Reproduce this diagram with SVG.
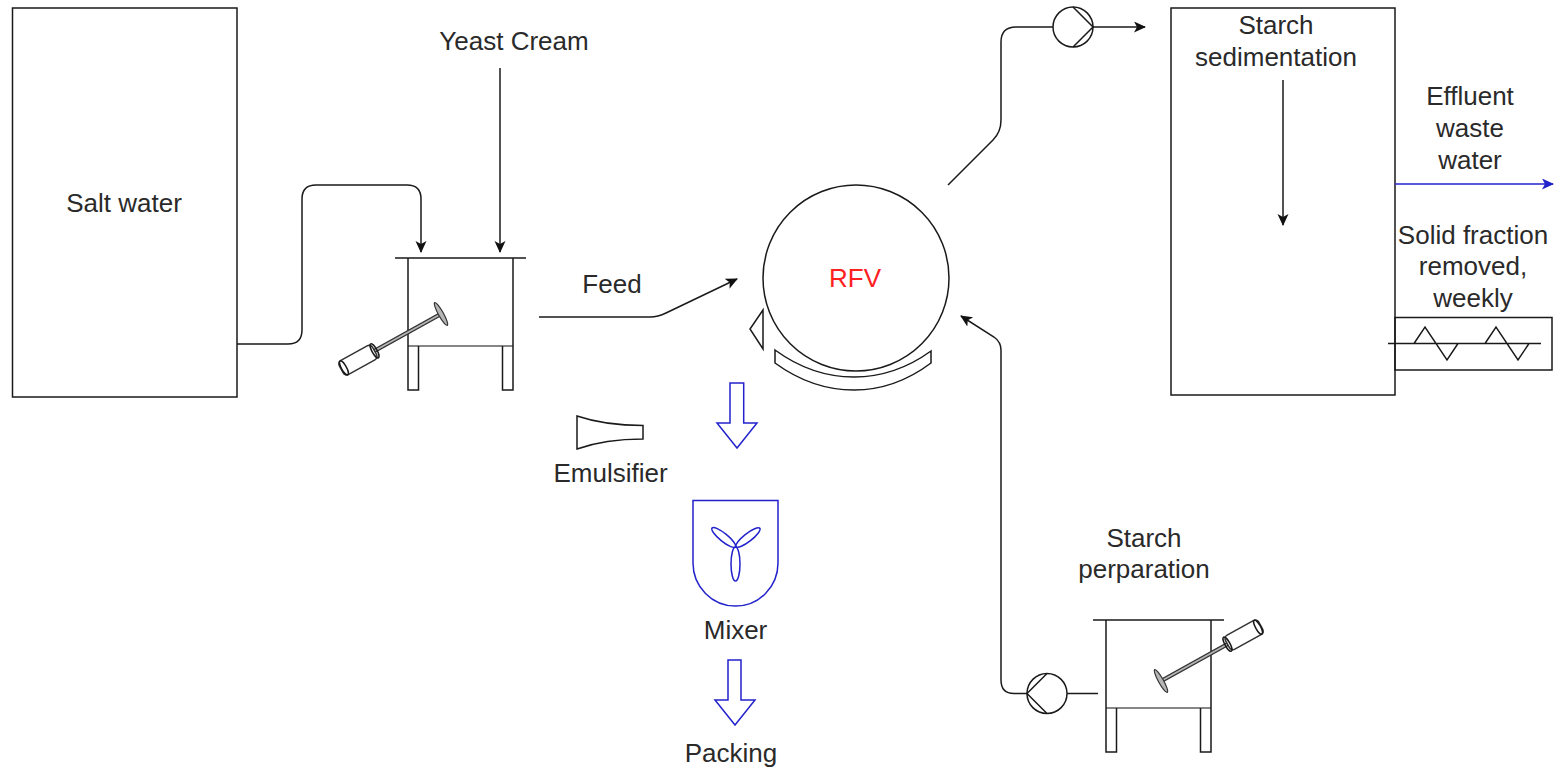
<svg xmlns="http://www.w3.org/2000/svg" width="1557" height="771" viewBox="0 0 1557 771">
<style>
text{font-family:"Liberation Sans",Arial,sans-serif;font-size:26px;fill:#2a2a2a;text-anchor:middle}
.s{fill:none;stroke:#1a1a1a;stroke-width:1.5}
.w{fill:#fff;stroke:#333;stroke-width:1.5}
.b{fill:none;stroke:#2222cc;stroke-width:1.5}
.g{fill:#b5b5b5;stroke:#333;stroke-width:1.2}
.c{fill:none;stroke:#1a1a1a;stroke-width:1.5}
</style>
<defs>
<marker id="ak" markerWidth="14" markerHeight="12" refX="11" refY="5.500" orient="auto" markerUnits="userSpaceOnUse"><path d="M0 0L12 5.500L0 11L3 5.500Z" fill="#111"/></marker>
<marker id="ab" markerWidth="14" markerHeight="12" refX="11" refY="5.500" orient="auto" markerUnits="userSpaceOnUse"><path d="M0 0L12 5.500L0 11L3 5.500Z" fill="#2222cc"/></marker>
<g id="tank">
<path class="s" d="M0 0H131M13 0V88M118 0V88"/>
<path class="s" d="M13 88H118" stroke-opacity=".7"/>
<path class="s" d="M13 88V132H23.500V88M107.500 88V132H118V88"/>
</g>
<g id="agit">
<rect class="g" x="-76" y="-1.500" width="76" height="3"/>
<ellipse class="g" cx="0" cy="0" rx="2.500" ry="13"/>
<rect class="w" x="-114" y="-8" width="38" height="16" rx="4"/>
<ellipse class="s" cx="-76" cy="0" rx="2.500" ry="8"/>
<ellipse class="s" cx="-111" cy="0" rx="2.500" ry="8"/>
</g>
<g id="pump">
<circle class="s" cx="0" cy="0" r="20"/>
<path class="s" d="M0 -20L20 0L0 20"/>
</g>
</defs>
<g id="salt-water"><rect class="s" x="12.500" y="8" width="224.500" height="389"/><text x="124" y="212">Salt water</text></g>
<g id="yeast-cream"><text x="514" y="50">Yeast Cream</text></g>
<g id="feed-tank"><use href="#tank" x="395" y="258"/><use href="#agit" transform="translate(441 314) rotate(-29)"/></g>
<g id="feed-label"><text x="612" y="293">Feed</text></g>
<g id="rfv">
<circle class="s" cx="856" cy="278" r="93"/>
<path class="s" d="M763 310L750 329L763 349Z"/>
<path class="s" d="M775 350V363Q812 390 854 390Q895 390 931 363V351Q895 377 854 377Q812 377 775 350Z"/>
<text x="855" y="287" style="fill:#ff2020">RFV</text>
</g>
<g id="emulsifier">
<path class="s" d="M577 416Q605 425.500 643 425.500V439Q605 439 577 449Z"/>
<text x="610.500" y="482">Emulsifier</text>
</g>
<g id="arrow-down-1"><path class="b" d="M730 383H743.700V423H757L737 448L717 423H730Z"/></g>
<g id="mixer">
<path class="b" d="M693 500.500H778V563A42.500 43 0 0 1 693 563Z"/>
<ellipse class="b" cx="735.500" cy="564" rx="4.500" ry="17"/>
<ellipse class="b" cx="723.700" cy="537.500" rx="4" ry="15" transform="rotate(-51 723.700 537.500)"/>
<ellipse class="b" cx="748" cy="537.500" rx="4" ry="15" transform="rotate(52 748 537.500)"/>
<text x="735.500" y="639">Mixer</text>
</g>
<g id="arrow-down-2"><path class="b" d="M728 660H741V700H755L735 725L715 700H728Z"/></g>
<g id="packing"><text x="731" y="762">Packing</text></g>
<g id="starch-sedimentation">
<rect class="s" x="1171" y="8" width="224" height="387"/>
<text x="1276" y="34">Starch</text><text x="1276" y="66">sedimentation</text>
</g>
<g id="effluent"><text x="1470" y="105">Effluent</text><text x="1470" y="137">waste</text><text x="1470" y="169">water</text></g>
<g id="solid-fraction"><text x="1473" y="244">Solid fraction</text><text x="1473" y="275">removed,</text><text x="1473" y="307">weekly</text></g>
<g id="heat-exchanger">
<rect class="s" x="1395" y="317.500" width="157" height="52.500"/>
<path class="s" d="M1388 343.500H1541M1414 343.500L1425 327L1447 360L1458 343.500M1485 343.500L1496 327L1518 360L1529 343.500"/>
</g>
<g id="pump-top"><use href="#pump" x="1073" y="27"/></g>
<g id="pump-bottom"><use href="#pump" transform="translate(1047 693.500) scale(-1 1)"/></g>
<g id="starch-tank"><use href="#tank" x="1093" y="620"/><use href="#agit" transform="translate(1161 681) rotate(-29) scale(-1 1)"/></g>
<g id="starch-preparation"><text x="1144" y="547">Starch</text><text x="1144" y="578">perparation</text></g>
<g id="connectors">
<path class="c" d="M237 344H288Q302 344 302 330V199Q302 185 316 185H407Q421 185 421 199V252" marker-end="url(#ak)"/>
<path class="c" d="M500 68V252" marker-end="url(#ak)"/>
<path class="c" d="M539 317H650Q658 317 666 313L737 279" marker-end="url(#ak)"/>
<path class="c" d="M948 185L993 140Q1001 132 1001 120V42Q1001 27 1016 27H1053"/>
<path class="c" d="M1093 27H1145" marker-end="url(#ak)"/>
<path class="c" d="M1283 80V225" marker-end="url(#ak)"/>
<path d="M1395 184H1553" fill="none" stroke="#2222cc" stroke-width="1.500" marker-end="url(#ab)"/>
<path class="c" d="M1027 693.500H1014Q1001 693.500 1001 680V350Q1001 342 994 337L961 316" marker-end="url(#ak)"/>
<path class="c" d="M1067 693.500H1098"/>
</g>
</svg>
